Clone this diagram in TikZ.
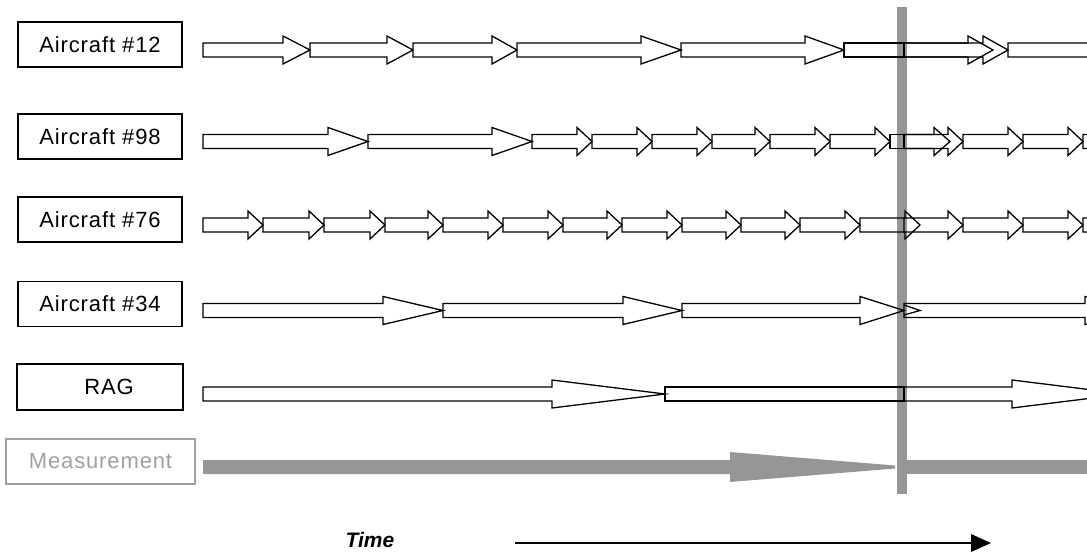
\documentclass[tikz,border=0pt]{standalone}
\usepackage{fontspec}
\setmainfont{Liberation Sans}
\newfontfamily\lblfont[LetterSpace=4]{Liberation Sans}
\definecolor{mgray}{RGB}{150,150,150}
\definecolor{lgray}{RGB}{160,160,160}
\tikzset{
  lbox/.style={draw=black, line width=1.5pt, minimum width=164pt, minimum height=45pt, inner sep=0pt, font=\lblfont\fontsize{22}{26}\selectfont},
  mbox/.style={lbox, draw=lgray, text=lgray, line width=1.3pt, minimum width=189pt},
  arr/.style={draw=black, line width=1.3pt, line join=miter},
  gfill/.style={fill=mgray, draw=none}
}
\newcommand\barrow[4]{% start, tip, head base, y centre
  \draw[arr] (#1,#4-7) -- (#3,#4-7) -- (#3,#4-14) -- (#2,#4) -- (#3,#4+14) -- (#3,#4+7) -- (#1,#4+7) -- cycle;}
\newcommand\bseg[3]{% start, end, y centre
  \draw[arr, line width=1.1pt] (#1,#3-7) -- (#2,#3-7) -- (#2,#3+7) -- (#1,#3+7) -- cycle;}
\begin{document}
\begin{tikzpicture}[x=1pt,y=-1pt]
\useasboundingbox (0,0) rectangle (1087,556);
\clip (0,0) rectangle (1087,556);
% labels
\node[lbox] (a12) at (100,44.5) {Aircraft \#12};
\node[lbox] (a98) at (100,136.5) {Aircraft \#98};
\node[lbox] (a76) at (100,219.5) {Aircraft \#76};
\node[lbox] (a34) at (100,304) {Aircraft \#34};
\node[lbox, minimum width=166pt, minimum height=46pt] (rag) at (100,387) {\hspace{18pt}RAG};
\node[mbox] (meas) at (100.5,461.5) {Measurement};
% vertical measurement bar
\fill[mgray] (897,7) rectangle (907,494);
% row 1: Aircraft #12
\barrow{203}{310}{283}{50}
\barrow{310}{413}{387}{50}
\barrow{413}{517}{492}{50}
\barrow{517}{681}{641}{50}
\barrow{681}{844}{805}{50}
\bseg{844}{904}{50}
\barrow{904}{993}{968}{50}
\barrow{904}{1008}{983}{50}
\barrow{1008}{1200}{1160}{50}
% row 2: Aircraft #98
\barrow{203}{368}{328}{141.5}
\barrow{368}{532}{492}{141.5}
\foreach \s/\t in {532/592,592/652,652/712,712/770,770/830,830/890}
  {\barrow{\s}{\t}{\t-15}{141.5}}
\bseg{890}{904}{141.5}
\barrow{904}{950}{934}{141.5}
\barrow{904}{963}{948}{141.5}
\foreach \s/\t in {963/1023,1023/1083,1083/1143}
  {\barrow{\s}{\t}{\t-15}{141.5}}
% row 3: Aircraft #76
\foreach \s/\t in {203/263,263/324,324/385,385/443,443/503,503/563,563/622,622/682,682/741,741/800,800/860,860/920,904/963,963/1023,1023/1083,1083/1143}
  {\barrow{\s}{\t}{\t-15}{225}}
% row 4: Aircraft #34
\barrow{203}{443}{383}{310.5}
\barrow{443}{682}{623}{310.5}
\barrow{682}{904}{860}{310.5}
\draw[arr] (904,305) -- (920,310.5) -- (904,315);
\barrow{904}{1145}{1085}{310.5}
% row 5: RAG
\barrow{203}{665}{552}{394}
\bseg{665}{904}{394}
\barrow{904}{1125}{1012}{394}
% measurement row
\fill[mgray] (203,460) -- (730,460) -- (730,452) -- (895,465.5) -- (895,468.5) -- (730,482) -- (730,474) -- (203,474) -- cycle;
\fill[mgray] (907,460) rectangle (1087,474);
% time axis
\node[font=\bfseries\itshape\fontsize{21}{25}\selectfont, anchor=center] (time) at (370,540) {Time};
\coordinate (t0) at (515,543);
\coordinate (t1) at (991,543);
\draw[line width=1.2pt] (t0) -- (972,543);
\fill (971,534) -- (t1) -- (971,552) -- cycle;
\end{tikzpicture}
\end{document}
